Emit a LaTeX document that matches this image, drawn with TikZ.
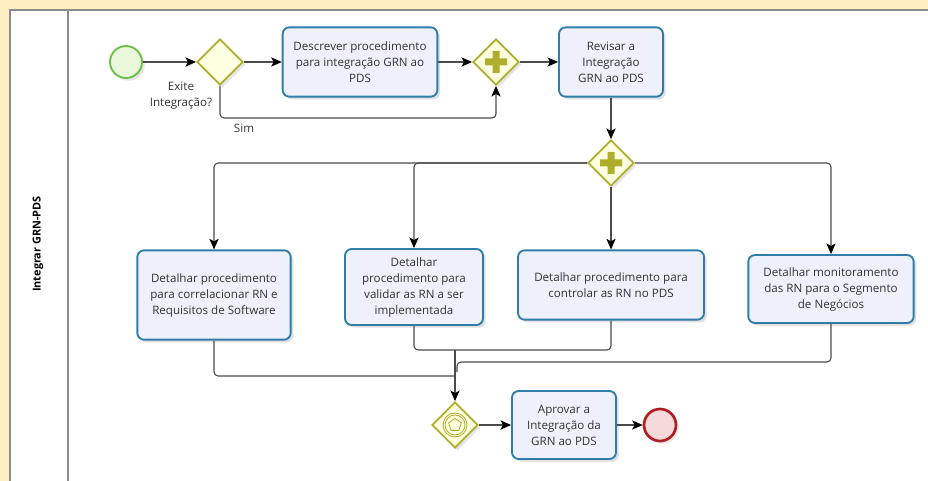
\documentclass[tikz,border=0pt]{standalone}
\usepackage{fontspec}
\setmainfont{Open Sans}
\usetikzlibrary{shapes.geometric,arrows.meta,shadows}
\definecolor{bgyellow}{HTML}{FFEEBF}
\definecolor{laneline}{HTML}{8C8C8C}
\definecolor{taskblue}{HTML}{2F7EAA}
\definecolor{taskfill}{HTML}{EEF1FB}
\definecolor{gwolive}{HTML}{AEAE2C}
\definecolor{gwfill}{HTML}{FFFFE2}
\definecolor{startgreen}{HTML}{6CC04A}
\definecolor{startfill}{HTML}{E9F8DA}
\definecolor{endred}{HTML}{B01E23}
\definecolor{endfill}{HTML}{F6D9DB}
\definecolor{flowgray}{HTML}{4A4A4A}
\definecolor{textgray}{HTML}{333333}
\tikzset{
  task/.style={draw=taskblue, line width=1.4pt, fill=taskfill, rounded corners=5pt,
    align=center, inner sep=2pt, text=textgray,
    drop shadow={shadow xshift=2pt, shadow yshift=-2pt, opacity=0.25}},
  gateway/.style={diamond, aspect=1, draw=gwolive, line width=1.4pt, fill=gwfill,
    minimum width=34.5pt, minimum height=34.5pt, inner sep=0pt,
    drop shadow={shadow xshift=2pt, shadow yshift=-2pt, opacity=0.2}},
  plusgw/.style={gateway, path picture={
    \fill[gwolive, shift={(path picture bounding box.center)}]
      (-11,-3.5) rectangle (11,3.5) (-3.5,-11) rectangle (3.5,11);}},
  flow/.style={draw=flowgray, line width=0.8pt, rounded corners=3pt,
    -{Stealth[length=8pt, width=7pt, inset=2pt, black]}},
  plainflow/.style={draw=flowgray, line width=0.8pt, rounded corners=3pt}
}
\begin{document}
\begin{tikzpicture}[x=0.75pt, y=-0.75pt, font=\fontsize{8.7}{12}\selectfont]
    \useasboundingbox (0,0) rectangle (928,481) ;
    \fill [bgyellow] (0,0) rectangle (928,481) ;
    \fill [white] (10,10) rectangle (928,481) ;
    \draw [laneline, line width=1.6pt] (928,10) -- (10,10) -- (10,481) ;
    \draw [laneline, line width=1.6pt] (68,10) -- (68,481) ;
    \node [rotate=90, font=\fontsize{8.2}{10}\selectfont\bfseries] (lane) at (38,244) {Integrar GRN-PDS} ;

    \node [circle, draw=startgreen, line width=1.4pt, fill=startfill, minimum size=24pt,
      drop shadow={shadow xshift=2pt, shadow yshift=-2pt, opacity=0.2}] (start) at (126,62) {} ;
    \node [gateway] (g1) at (220,62) {} ;
    \node [task, minimum width=116pt, minimum height=52pt] (t1) at (360,62)
      {Descrever procedimento\\para integração GRN ao\\PDS} ;
    \node [plusgw] (g2) at (496,62) {} ;
    \node [task, minimum width=78pt, minimum height=52pt] (t2) at (611,62)
      {Revisar a\\Integração\\GRN ao PDS} ;
    \node [plusgw] (g3) at (611,163) {} ;

    \node [task, minimum width=115pt, minimum height=67pt] (t3) at (214,295)
      {Detalhar procedimento\\para correlacionar RN e\\Requisitos de Software} ;
    \node [task, minimum width=103.5pt, minimum height=57pt] (t4) at (414,287)
      {Detalhar\\procedimento para\\validar as RN a ser\\implementada} ;
    \node [task, minimum width=139.5pt, minimum height=52pt] (t5) at (611,285)
      {Detalhar procedimento para\\controlar as RN no PDS} ;
    \node [task, minimum width=124pt, minimum height=51pt] (t6) at (831,289)
      {Detalhar monitoramento\\das RN para o Segmento\\de Negócios} ;

    \node [gateway] (g4) at (455,425) {} ;
    \draw [gwolive, line width=0.6pt] (g4.center) circle (12) circle (10) ;
    \node [regular polygon, regular polygon sides=5, draw=gwolive, line width=0.6pt,
      minimum size=10pt, inner sep=0pt] (g4mark) at (g4.center) {} ;
    \node [task, minimum width=78pt, minimum height=51pt] (t7) at (564,425)
      {Aprovar a\\Integração da\\GRN ao PDS} ;
    \node [circle, draw=endred, line width=2pt, fill=endfill, minimum size=24pt,
      drop shadow={shadow xshift=2pt, shadow yshift=-2pt, opacity=0.2}] (end) at (660,425) {} ;

    \node [align=center, text=textgray] (qlabel) at (181,96) {Exite\\Integração?} ;
    \coordinate (simbend) at (496,118) ;
    \node [text=textgray] (simlabel) at (244,128) {Sim} ;

    \draw [flow] (start) -- (g1) ;
    \draw [flow] (g1) -- (t1) ;
    \draw [flow] (t1) -- (g2) ;
    \draw [flow] (g1.south) |- (simbend) -- (g2.south) ;
    \draw [flow] (g2) -- (t2) ;
    \draw [flow] (t2) -- (g3) ;

    \draw [flow] (g3.west) -| (t3.north) ;
    \draw [flow] (g3.west) -| (t4.north) ;
    \draw [flow] (g3.south) -- (t5.north) ;
    \draw [flow] (g3.east) -| (t6.north) ;

    \coordinate (join1) at (455,350) ;
    \coordinate (join2) at (457,362) ;
    \coordinate (join3) at (455,376) ;
    \draw [plainflow] (t4.south) |- (join1) ;
    \draw [plainflow] (t5.south) |- (join1) ;
    \draw [plainflow] (t6.south) |- (join2) -- (457,372) ;
    \draw [plainflow] (t3.south) |- (join3) ;
    \draw [flow] (join1) -- (g4.north) ;

    \draw [flow] (g4) -- (t7) ;
    \draw [flow] (t7) -- (end) ;
\end{tikzpicture}
\end{document}
